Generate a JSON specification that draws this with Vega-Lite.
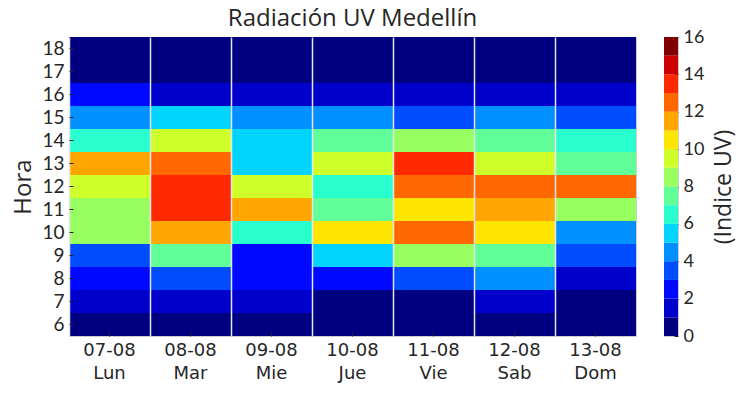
{
  "$schema": "https://vega.github.io/schema/vega-lite/v6.json",
  "background": "white",
  "padding": {"left": 11, "top": 6, "right": 5, "bottom": 5},
  "spacing": 26,
  "datasets": {
    "uv": [
      {"dia": "07-08 Lun", "hora": 6, "uv": 0.5}, {"dia": "07-08 Lun", "hora": 7, "uv": 1.5}, {"dia": "07-08 Lun", "hora": 8, "uv": 2.5}, {"dia": "07-08 Lun", "hora": 9, "uv": 3.5}, {"dia": "07-08 Lun", "hora": 10, "uv": 8.5}, {"dia": "07-08 Lun", "hora": 11, "uv": 8.5}, {"dia": "07-08 Lun", "hora": 12, "uv": 9.5}, {"dia": "07-08 Lun", "hora": 13, "uv": 11.5}, {"dia": "07-08 Lun", "hora": 14, "uv": 6.5}, {"dia": "07-08 Lun", "hora": 15, "uv": 4.5}, {"dia": "07-08 Lun", "hora": 16, "uv": 2.5}, {"dia": "07-08 Lun", "hora": 17, "uv": 0.5}, {"dia": "07-08 Lun", "hora": 18, "uv": 0.5},
      {"dia": "08-08 Mar", "hora": 6, "uv": 0.5}, {"dia": "08-08 Mar", "hora": 7, "uv": 1.5}, {"dia": "08-08 Mar", "hora": 8, "uv": 3.5}, {"dia": "08-08 Mar", "hora": 9, "uv": 7.5}, {"dia": "08-08 Mar", "hora": 10, "uv": 11.5}, {"dia": "08-08 Mar", "hora": 11, "uv": 13.5}, {"dia": "08-08 Mar", "hora": 12, "uv": 13.5}, {"dia": "08-08 Mar", "hora": 13, "uv": 12.5}, {"dia": "08-08 Mar", "hora": 14, "uv": 9.5}, {"dia": "08-08 Mar", "hora": 15, "uv": 5.5}, {"dia": "08-08 Mar", "hora": 16, "uv": 1.5}, {"dia": "08-08 Mar", "hora": 17, "uv": 0.5}, {"dia": "08-08 Mar", "hora": 18, "uv": 0.5},
      {"dia": "09-08 Mie", "hora": 6, "uv": 0.5}, {"dia": "09-08 Mie", "hora": 7, "uv": 1.5}, {"dia": "09-08 Mie", "hora": 8, "uv": 2.5}, {"dia": "09-08 Mie", "hora": 9, "uv": 2.5}, {"dia": "09-08 Mie", "hora": 10, "uv": 6.5}, {"dia": "09-08 Mie", "hora": 11, "uv": 11.5}, {"dia": "09-08 Mie", "hora": 12, "uv": 9.5}, {"dia": "09-08 Mie", "hora": 13, "uv": 5.5}, {"dia": "09-08 Mie", "hora": 14, "uv": 5.5}, {"dia": "09-08 Mie", "hora": 15, "uv": 4.5}, {"dia": "09-08 Mie", "hora": 16, "uv": 1.5}, {"dia": "09-08 Mie", "hora": 17, "uv": 0.5}, {"dia": "09-08 Mie", "hora": 18, "uv": 0.5},
      {"dia": "10-08 Jue", "hora": 6, "uv": 0.5}, {"dia": "10-08 Jue", "hora": 7, "uv": 0.5}, {"dia": "10-08 Jue", "hora": 8, "uv": 2.5}, {"dia": "10-08 Jue", "hora": 9, "uv": 5.5}, {"dia": "10-08 Jue", "hora": 10, "uv": 10.5}, {"dia": "10-08 Jue", "hora": 11, "uv": 7.5}, {"dia": "10-08 Jue", "hora": 12, "uv": 6.5}, {"dia": "10-08 Jue", "hora": 13, "uv": 9.5}, {"dia": "10-08 Jue", "hora": 14, "uv": 7.5}, {"dia": "10-08 Jue", "hora": 15, "uv": 4.5}, {"dia": "10-08 Jue", "hora": 16, "uv": 1.5}, {"dia": "10-08 Jue", "hora": 17, "uv": 0.5}, {"dia": "10-08 Jue", "hora": 18, "uv": 0.5},
      {"dia": "11-08 Vie", "hora": 6, "uv": 0.5}, {"dia": "11-08 Vie", "hora": 7, "uv": 0.5}, {"dia": "11-08 Vie", "hora": 8, "uv": 3.5}, {"dia": "11-08 Vie", "hora": 9, "uv": 8.5}, {"dia": "11-08 Vie", "hora": 10, "uv": 12.5}, {"dia": "11-08 Vie", "hora": 11, "uv": 10.5}, {"dia": "11-08 Vie", "hora": 12, "uv": 12.5}, {"dia": "11-08 Vie", "hora": 13, "uv": 13.5}, {"dia": "11-08 Vie", "hora": 14, "uv": 8.5}, {"dia": "11-08 Vie", "hora": 15, "uv": 3.5}, {"dia": "11-08 Vie", "hora": 16, "uv": 1.5}, {"dia": "11-08 Vie", "hora": 17, "uv": 0.5}, {"dia": "11-08 Vie", "hora": 18, "uv": 0.5},
      {"dia": "12-08 Sab", "hora": 6, "uv": 0.5}, {"dia": "12-08 Sab", "hora": 7, "uv": 1.5}, {"dia": "12-08 Sab", "hora": 8, "uv": 4.5}, {"dia": "12-08 Sab", "hora": 9, "uv": 7.5}, {"dia": "12-08 Sab", "hora": 10, "uv": 10.5}, {"dia": "12-08 Sab", "hora": 11, "uv": 11.5}, {"dia": "12-08 Sab", "hora": 12, "uv": 12.5}, {"dia": "12-08 Sab", "hora": 13, "uv": 9.5}, {"dia": "12-08 Sab", "hora": 14, "uv": 7.5}, {"dia": "12-08 Sab", "hora": 15, "uv": 4.5}, {"dia": "12-08 Sab", "hora": 16, "uv": 1.5}, {"dia": "12-08 Sab", "hora": 17, "uv": 0.5}, {"dia": "12-08 Sab", "hora": 18, "uv": 0.5},
      {"dia": "13-08 Dom", "hora": 6, "uv": 0.5}, {"dia": "13-08 Dom", "hora": 7, "uv": 0.5}, {"dia": "13-08 Dom", "hora": 8, "uv": 1.5}, {"dia": "13-08 Dom", "hora": 9, "uv": 3.5}, {"dia": "13-08 Dom", "hora": 10, "uv": 4.5}, {"dia": "13-08 Dom", "hora": 11, "uv": 8.5}, {"dia": "13-08 Dom", "hora": 12, "uv": 12.5}, {"dia": "13-08 Dom", "hora": 13, "uv": 7.5}, {"dia": "13-08 Dom", "hora": 14, "uv": 6.5}, {"dia": "13-08 Dom", "hora": 15, "uv": 3.5}, {"dia": "13-08 Dom", "hora": 16, "uv": 1.5}, {"dia": "13-08 Dom", "hora": 17, "uv": 0.5}, {"dia": "13-08 Dom", "hora": 18, "uv": 0.5}
    ],
    "barra": [
      {"lo": 0, "hi": 1}, {"lo": 1, "hi": 2}, {"lo": 2, "hi": 3}, {"lo": 3, "hi": 4},
      {"lo": 4, "hi": 5}, {"lo": 5, "hi": 6}, {"lo": 6, "hi": 7}, {"lo": 7, "hi": 8},
      {"lo": 8, "hi": 9}, {"lo": 9, "hi": 10}, {"lo": 10, "hi": 11}, {"lo": 11, "hi": 12},
      {"lo": 12, "hi": 13}, {"lo": 13, "hi": 14}, {"lo": 14, "hi": 15}, {"lo": 15, "hi": 16}
    ]
  },
  "config": {
    "view": {"stroke": "#cccccc", "strokeWidth": 1},
    "font": "Open Sans",
    "axis": {
      "labelColor": "#262626",
      "titleColor": "#262626",
      "tickColor": "#262626",
      "titleFontWeight": "normal",
      "domain": false,
      "grid": false
    }
  },
  "hconcat": [
    {
      "title": {"text": "Radiación UV Medellín", "font": "Open Sans", "fontSize": 24, "fontWeight": "normal", "color": "#262626", "offset": 6},
      "width": 567,
      "height": 299,
      "data": {"name": "uv"},
      "layer": [
        {
          "mark": {"type": "rect"},
          "encoding": {
            "x": {
              "field": "dia", "type": "ordinal", "sort": null,
              "scale": {"paddingInner": 0, "paddingOuter": 0},
              "axis": {
                "title": null, "labelAngle": 0,
                "labelExpr": "split(datum.label, ' ')",
                "labelFont": "DejaVu Sans", "labelFontSize": 18, "labelLineHeight": 23,
                "labelBaseline": "top", "labelPadding": 9,
                "tickSize": -4, "tickWidth": 1
              }
            },
            "y": {
              "field": "hora", "type": "ordinal", "sort": "descending",
              "scale": {"paddingInner": 0, "paddingOuter": 0},
              "axis": {
                "title": "Hora", "titleFontSize": 24, "titleFont": "Open Sans", "titlePadding": 6,
                "labelFont": "Lato", "labelFontSize": 19, "labelPadding": 9,
                "tickSize": -4, "tickWidth": 1
              }
            },
            "color": {
              "field": "uv", "type": "quantitative",
              "scale": {
                "type": "threshold",
                "domain": [1, 2, 3, 4, 5, 6, 7, 8, 9, 10, 11, 12, 13, 14, 15],
                "range": ["#000080", "#0000cd", "#0008ff", "#004cff", "#0090ff", "#00d4ff", "#29ffce", "#60ff97", "#97ff60", "#ceff29", "#ffe600", "#ffa700", "#ff6800", "#ff2900", "#cd0000", "#800000"]
              },
              "legend": null
            }
          }
        },
        {
          "mark": {"type": "rect", "opacity": 0},
          "encoding": {
            "x": {
              "field": "dia", "type": "ordinal", "sort": null,
              "axis": {
                "orient": "top", "grid": true, "bandPosition": 0, "labels": false, "ticks": false,
                "domain": false, "title": null, "gridColor": "#e6e6e6", "gridWidth": 1.5, "zindex": 1
              }
            }
          }
        }
      ],
      "resolve": {"axis": {"x": "independent"}}
    },
    {
      "width": 14,
      "height": 299,
      "data": {"name": "barra"},
      "mark": {"type": "rect"},
      "encoding": {
        "y": {
          "field": "lo", "type": "quantitative",
          "scale": {"domain": [0, 16], "nice": false, "zero": false},
          "axis": {
            "orient": "right", "values": [0, 2, 4, 6, 8, 10, 12, 14, 16],
            "title": "(Indice UV)", "titleFontSize": 23, "titleFont": "Open Sans", "titleAngle": 270, "titleBaseline": "top", "titlePadding": 9,
            "labelFont": "Lato", "labelFontSize": 18, "labelPadding": 9,
            "tickSize": -4, "tickWidth": 1
          }
        },
        "y2": {"field": "hi"},
        "color": {
          "field": "lo", "type": "quantitative",
          "scale": {
            "type": "threshold",
            "domain": [1, 2, 3, 4, 5, 6, 7, 8, 9, 10, 11, 12, 13, 14, 15],
            "range": ["#000080", "#0000cd", "#0008ff", "#004cff", "#0090ff", "#00d4ff", "#29ffce", "#60ff97", "#97ff60", "#ceff29", "#ffe600", "#ffa700", "#ff6800", "#ff2900", "#cd0000", "#800000"]
          },
          "legend": null
        }
      }
    }
  ]
}
